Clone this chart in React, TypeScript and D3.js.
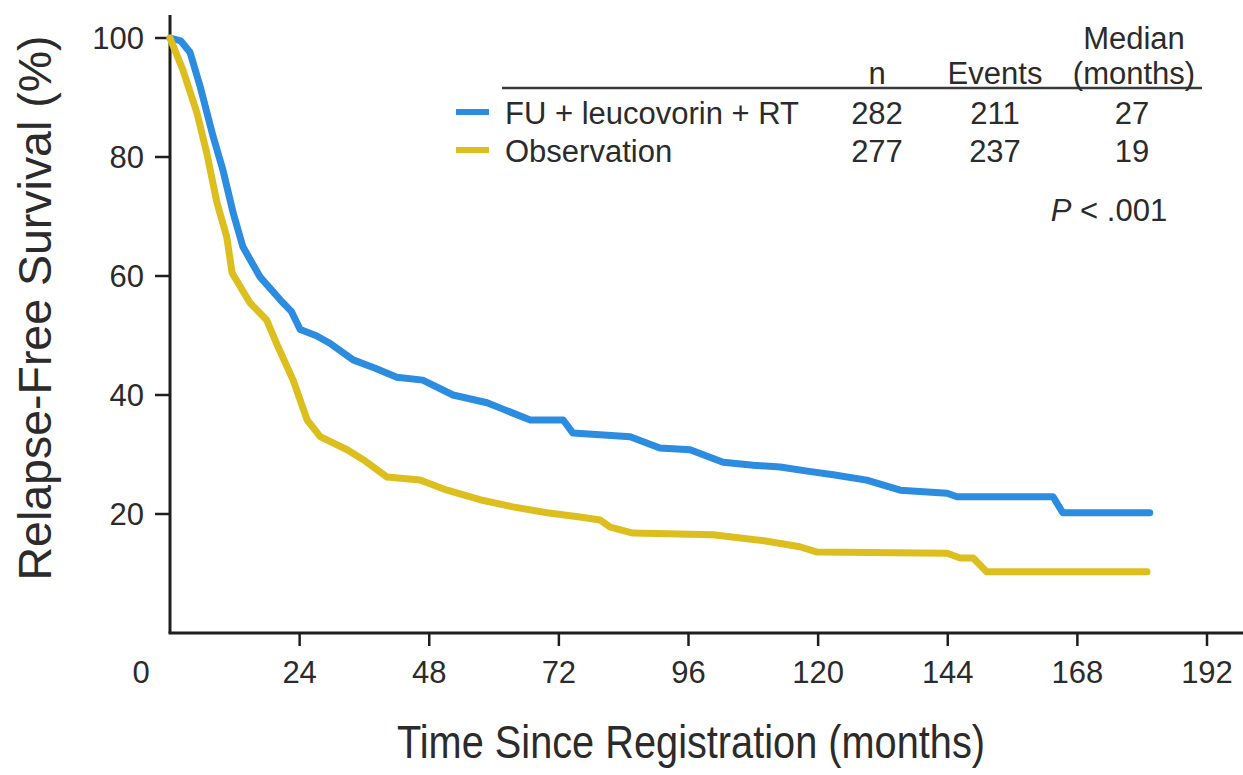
import * as d3 from 'd3';
import { useEffect } from 'react';

const W = 1243;
const H = 775;

// axis ticks
const xTickValues = [24, 48, 72, 96, 120, 144, 168, 192];
const yTickValues = [20, 40, 60, 80, 100];

// Kaplan-Meier curves (months, % relapse-free)
const fuMonths = [0, 2, 3.7, 5.6, 8, 9.8, 11.7, 13.5, 16.7, 20.4, 22.5, 24.1, 27, 29.6, 33.9, 38, 42, 46.8, 52.4, 58.7, 62, 66.7, 72.8, 74.6, 79.6, 85.2, 90.7, 96.3, 102.4, 108, 113, 118, 122.8, 129, 135.2, 143.9, 145.7, 163.5, 165.3, 181.4];
const fuSurvival = [100, 99.5, 97.6, 91.8, 83.4, 77.8, 70.6, 64.9, 59.8, 56, 54, 51, 50, 48.7, 45.9, 44.5, 43, 42.5, 40, 38.7, 37.5, 35.8, 35.8, 33.6, 33.3, 33, 31.1, 30.8, 28.7, 28.2, 27.9, 27.2, 26.6, 25.7, 24, 23.5, 22.9, 22.9, 20.2, 20.2];

const obsMonths = [0, 2.4, 5, 6.8, 8.7, 10.5, 11.5, 14.8, 17.9, 20, 22.8, 25.4, 27.8, 32.8, 36, 40.2, 46.3, 51.3, 57.4, 63.5, 69.8, 75.9, 79.6, 81.5, 85.7, 100.5, 110, 116.6, 119.8, 143.9, 146.3, 148.7, 151.2, 180.9];
const obsSurvival = [100, 94.6, 87.4, 80.7, 72.3, 66.6, 60.5, 55.5, 52.6, 48.1, 42.5, 35.8, 33, 30.8, 29, 26.2, 25.7, 24, 22.4, 21.2, 20.2, 19.5, 19, 17.8, 16.8, 16.5, 15.5, 14.5, 13.6, 13.4, 12.6, 12.6, 10.3, 10.3];

// legend table
const seriesNames = ['FU + leucovorin + RT', 'Observation'];
const seriesColors = ['#2b8ce0', '#dcbf1f'];
const seriesN = [282, 277];
const seriesEvents = [211, 237];
const seriesMedian = [27, 19];

const x = d3.scaleLinear().domain([0, 192]).range([170, 1207]);
const y = d3.scaleLinear().domain([0, 100]).range([633, 38]);

const line = d3
  .line<[number, number]>()
  .x(d => x(d[0]))
  .y(d => y(d[1]))
  .curve(d3.curveLinear);

const ink = '#2b2b2b';
const font = '"Liberation Sans", Arial, Helvetica, sans-serif';

export default function App() {
  useEffect(() => {
    document.body.style.margin = '0';
  }, []);

  const fu = fuMonths.map((t, i) => [t, fuSurvival[i]] as [number, number]);
  const obs = obsMonths.map((t, i) => [t, obsSurvival[i]] as [number, number]);

  const colN = 877;
  const colEv = 995;
  const colMed = 1134;

  return (
    <svg width={W} height={H} style={{ display: 'block', background: '#fff' }} fontFamily={font}>
      {/* axes */}
      <line x1={x(0)} x2={x(0)} y1={15} y2={y(0)} stroke="#1e1e1e" strokeWidth={3} />
      <line x1={x(0) - 1.5} x2={W} y1={y(0)} y2={y(0)} stroke="#1e1e1e" strokeWidth={3} />

      {yTickValues.map(v => (
        <g key={'y' + v}>
          <line x1={x(0) - 15} x2={x(0)} y1={y(v)} y2={y(v)} stroke="#1e1e1e" strokeWidth={2.5} />
          <text x={x(0) - 26} y={y(v)} dy="0.36em" textAnchor="end" fontSize={31} fill={ink}>
            {v}
          </text>
        </g>
      ))}

      {xTickValues.map(v => (
        <g key={'x' + v}>
          <line x1={x(v)} x2={x(v)} y1={y(0)} y2={y(0) + 13} stroke="#1e1e1e" strokeWidth={2.5} />
          <text x={x(v)} y={683} textAnchor="middle" fontSize={31} fill={ink}>
            {v}
          </text>
        </g>
      ))}
      <text x={141} y={683} textAnchor="middle" fontSize={31} fill={ink}>0</text>

      {/* axis titles */}
      <text
        transform="translate(51,308) rotate(-90)"
        textAnchor="middle"
        fontSize={46}
        fill={ink}
        textLength={545}
        lengthAdjust="spacingAndGlyphs"
      >
        Relapse-Free Survival (%)
      </text>
      <text
        x={691}
        y={758}
        textAnchor="middle"
        fontSize={46}
        fill={ink}
        textLength={588}
        lengthAdjust="spacingAndGlyphs"
      >
        Time Since Registration (months)
      </text>

      {/* curves */}
      <path d={line(fu) ?? ''} fill="none" stroke={seriesColors[0]} strokeWidth={7} strokeLinejoin="round" strokeLinecap="round" />
      <path d={line(obs) ?? ''} fill="none" stroke={seriesColors[1]} strokeWidth={7} strokeLinejoin="round" strokeLinecap="round" />

      {/* legend table */}
      <line x1={502} x2={1202} y1={88} y2={88} stroke="#3a3a3a" strokeWidth={2.5} />
      <text x={colMed} y={49} textAnchor="middle" fontSize={31} fill={ink}>Median</text>
      <text x={colN} y={84} textAnchor="middle" fontSize={31} fill={ink}>n</text>
      <text x={colEv} y={84} textAnchor="middle" fontSize={31} fill={ink}>Events</text>
      <text x={colMed} y={84} textAnchor="middle" fontSize={31} fill={ink}>(months)</text>

      {seriesNames.map((name, i) => {
        const base = 124 + i * 38;
        return (
          <g key={name}>
            <line x1={456} x2={489} y1={base - 12} y2={base - 12} stroke={seriesColors[i]} strokeWidth={6} />
            <text x={505} y={base} fontSize={31} fill={ink}>{name}</text>
            <text x={colN} y={base} textAnchor="middle" fontSize={31} fill={ink}>{seriesN[i]}</text>
            <text x={colEv} y={base} textAnchor="middle" fontSize={31} fill={ink}>{seriesEvents[i]}</text>
            <text x={colMed - 2} y={base} textAnchor="middle" fontSize={31} fill={ink}>{seriesMedian[i]}</text>
          </g>
        );
      })}

      <text x={1109} y={221} textAnchor="middle" fontSize={31} fill={ink}>
        <tspan fontStyle="italic">P</tspan>
        <tspan> &lt; .001</tspan>
      </text>
    </svg>
  );
}
